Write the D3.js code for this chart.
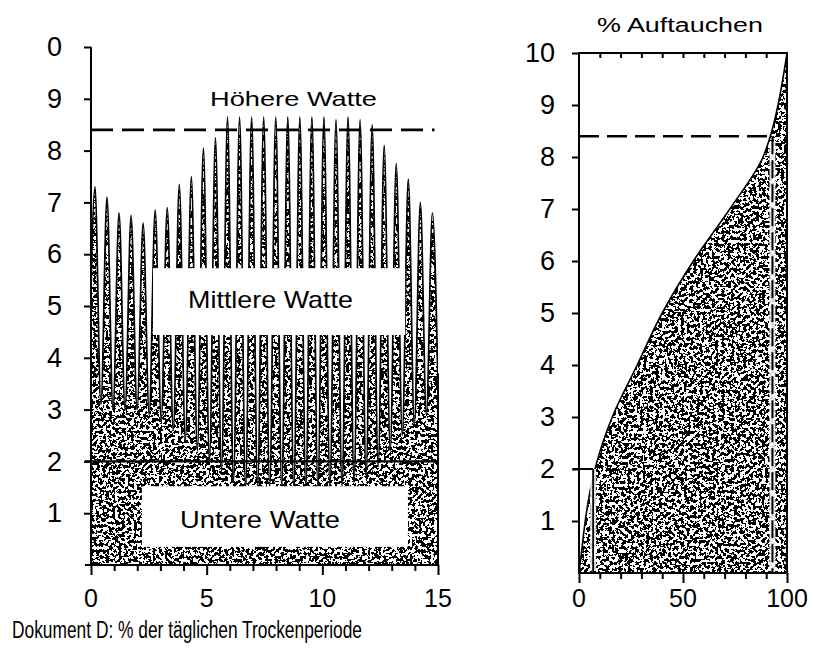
<!DOCTYPE html>
<html>
<head>
<meta charset="utf-8">
<script src="https://cdn.jsdelivr.net/npm/d3@7"></script>
<style>
	body {margin: 0; background: #fff;}
	text {font-family: "Liberation Sans", Arial, sans-serif; fill: #000;}
</style>
</head>
<body>
<svg id="chart"></svg>
<script>
// left panel: tide curve, one high and one low water each half tide
var tideStart = 0.17, tidePeriod = 0.521;
var tideHighs = [7.3, 7.1, 6.8, 6.75, 6.6, 6.85, 6.9, 7.35, 7.5, 8.05, 8.25,
	8.65, 8.65, 8.65, 8.65, 8.65, 8.65, 8.65, 8.65, 8.65, 8.6, 8.65, 8.6,
	8.5, 8.1, 7.75, 7.45, 7.0, 6.8];
var tideLows = [3.2, 3.1, 3.0, 3.0, 3.0, 2.9, 2.8, 2.6, 2.4, 2.2, 2.0, 1.8,
	1.6, 1.5, 1.5, 1.5, 1.5, 1.5, 1.5, 1.5, 1.5, 1.5, 1.6, 1.7, 1.9, 2.2,
	2.5, 2.7, 2.9, 3.0];
var leftXTicks = [0, 5, 10, 15];
var leftYTicks = [1, 2, 3, 4, 5, 6, 7, 8, 9, 10];
var leftYTickLabels = ["1", "2", "3", "4", "5", "6", "7", "8", "9", "0"];

// right panel: emergence (% of time dry) against level
var emergLevel = [0, 0.5, 1, 1.5, 2, 3, 4, 5, 6, 7, 8, 8.4, 9, 9.5, 10];
var emergPct = [0, 1.5, 3, 5, 7.7, 16, 28, 40, 55, 72.5, 88.5, 92, 95.7, 98, 100];
var rightXTicks = [0, 50, 100];
var rightYTicks = [1, 2, 3, 4, 5, 6, 7, 8, 9, 10];

var zoneNames = ["Höhere Watte", "Mittlere Watte", "Untere Watte"];
var highLimit = 8.4, lowLimit = 2;
var highLimitPct = 93, lowLimitPct = 6.8;

var W = 813, H = 661;
var svg = d3.select("#chart").attr("width", W).attr("height", H);
svg.append("rect").attr("width", W).attr("height", H).attr("fill", "#fff");

// scanned stipple texture
var defs = svg.append("defs");
var f = defs.append("filter").attr("id", "stipple")
	.attr("x", 0).attr("y", 0).attr("width", 1).attr("height", 1)
	.attr("color-interpolation-filters", "sRGB");
f.append("feTurbulence").attr("type", "fractalNoise").attr("baseFrequency", 0.32)
	.attr("numOctaves", 3).attr("seed", 11).attr("result", "noise");
f.append("feColorMatrix").attr("in", "noise").attr("type", "matrix")
	.attr("values", "0 0 0 0 0  0 0 0 0 0  0 0 0 0 0  1 0 0 0 0").attr("result", "a");
f.append("feComponentTransfer").attr("in", "a").attr("result", "mask")
	.append("feFuncA").attr("type", "discrete").attr("tableValues", "0 0 0 0 0 0 0 0 0 0 1 1 1 1 1 1 1 1 1 1");
f.append("feComposite").attr("in", "SourceGraphic").attr("in2", "mask").attr("operator", "in");

// ---------- left panel ----------
var x = d3.scaleLinear().domain([0, 15]).range([91, 438]);
var y = d3.scaleLinear().domain([0, 10]).range([565, 47]);

var tide = [];
tideLows.forEach(function(v, i) {
	tide.push({t: tideStart + (i - 0.5) * tidePeriod, h: v});
	if (i < tideHighs.length) tide.push({t: tideStart + i * tidePeriod, h: tideHighs[i]});
});

defs.append("clipPath").attr("id", "leftClip").append("rect")
	.attr("x", x(0)).attr("y", 0).attr("width", x(15) - x(0)).attr("height", y(0));

var left = svg.append("g").attr("clip-path", "url(#leftClip)");
left.append("path").datum(tide)
	.attr("d", d3.area().x(function(d) { return x(d.t); }).y0(y(0)).y1(function(d) { return y(d.h); }).curve(d3.curveMonotoneX))
	.attr("fill", "#000").attr("filter", "url(#stipple)");
left.append("path").datum(tide)
	.attr("d", d3.line().x(function(d) { return x(d.t); }).y(function(d) { return y(d.h); }).curve(d3.curveMonotoneX))
	.attr("fill", "none").attr("stroke", "#000").attr("stroke-width", 1.7);

// right edge of the tide fill
svg.append("line").attr("x1", x(15)).attr("x2", x(15)).attr("y1", y(0)).attr("y2", y(3.7))
	.attr("stroke", "#000").attr("stroke-width", 2);

// white label boxes
var boxes = [[2.68, 13.58, 5.73, 4.44], [2.2, 13.7, 1.52, 0.35]];
boxes.forEach(function(b) {
	svg.append("rect").attr("x", x(b[0])).attr("width", x(b[1]) - x(b[0]))
		.attr("y", y(b[2])).attr("height", y(b[3]) - y(b[2])).attr("fill", "#fff");
});

// limit lines
svg.append("line").attr("x1", x(0)).attr("x2", x(14.85)).attr("y1", y(highLimit)).attr("y2", y(highLimit))
	.attr("stroke", "#000").attr("stroke-width", 2.6).attr("stroke-dasharray", "22,9");
svg.append("line").attr("x1", x(0) - 6).attr("x2", x(15)).attr("y1", y(lowLimit)).attr("y2", y(lowLimit))
	.attr("stroke", "#000").attr("stroke-width", 2.2);

// axes
var yAxisL = svg.append("g").attr("transform", "translate(" + x(0) + ",0)")
	.call(d3.axisLeft(y).tickValues(leftYTicks).tickSize(7)
		.tickFormat(function(d, i) { return leftYTickLabels[i]; }));
yAxisL.select(".domain").attr("d", "M0," + y(10) + "V" + y(0));
yAxisL.selectAll("text").attr("x", -29).style("font-size", "27px");

var xAxisL = svg.append("g").attr("transform", "translate(0," + y(0) + ")")
	.call(d3.axisBottom(x).tickValues(d3.range(0, 16)).tickSize(6).tickFormat(""));
xAxisL.select(".domain").attr("d", "M" + (x(0) - 6) + ",0H" + x(15));
xAxisL.selectAll(".tick line").filter(function(d) { return d % 5 === 0; }).attr("y2", 10);
svg.append("g").selectAll("text").data(leftXTicks).enter().append("text")
	.attr("x", function(d) { return x(d); }).attr("y", 607)
	.attr("text-anchor", "middle").style("font-size", "25px").text(function(d) { return d; });

svg.selectAll(".domain, .tick line").attr("stroke", "#000").attr("stroke-width", 2);
svg.selectAll(".tick text").attr("fill", "#000").style("font-family", "'Liberation Sans', Arial, sans-serif");

// zone labels
svg.append("text").attr("x", 210).attr("y", 106).attr("textLength", 167).attr("lengthAdjust", "spacingAndGlyphs")
	.style("font-size", "21px").text(zoneNames[0]);
svg.append("text").attr("x", 188).attr("y", 308).attr("textLength", 165).attr("lengthAdjust", "spacingAndGlyphs")
	.style("font-size", "24px").text(zoneNames[1]);
svg.append("text").attr("x", 180).attr("y", 528).attr("textLength", 160).attr("lengthAdjust", "spacingAndGlyphs")
	.style("font-size", "24px").text(zoneNames[2]);

// ---------- right panel ----------
var x2 = d3.scaleLinear().domain([0, 100]).range([579, 787]);
var y2 = d3.scaleLinear().domain([0, 10]).range([573, 53]);

var emerg = emergLevel.map(function(v, i) { return {h: v, p: emergPct[i]}; });

svg.append("path").datum(emerg)
	.attr("d", d3.area().y(function(d) { return y2(d.h); }).x0(function(d) { return x2(d.p); }).x1(x2(100)).curve(d3.curveMonotoneY))
	.attr("fill", "#000").attr("filter", "url(#stipple)");
svg.append("path").datum(emerg)
	.attr("d", d3.line().y(function(d) { return y2(d.h); }).x(function(d) { return x2(d.p); }).curve(d3.curveMonotoneY))
	.attr("fill", "none").attr("stroke", "#000").attr("stroke-width", 1.6);

// white gaps along the two vertical limit lines
[highLimitPct, lowLimitPct].forEach(function(p) {
	svg.append("line").attr("x1", x2(p)).attr("x2", x2(p))
		.attr("y1", y2(p === highLimitPct ? highLimit - 0.1 : lowLimit)).attr("y2", y2(0) - 2)
		.attr("stroke", "#fff").attr("stroke-width", 6).attr("stroke-opacity", 0.85);
});

svg.append("line").attr("x1", x2(0)).attr("x2", x2(92)).attr("y1", y2(highLimit)).attr("y2", y2(highLimit))
	.attr("stroke", "#000").attr("stroke-width", 2.6).attr("stroke-dasharray", "20,8");
svg.append("line").attr("x1", x2(highLimitPct)).attr("x2", x2(highLimitPct)).attr("y1", y2(highLimit)).attr("y2", y2(0))
	.attr("stroke", "#000").attr("stroke-width", 2).attr("stroke-dasharray", "18,6");
svg.append("line").attr("x1", x2(0) - 6).attr("x2", x2(lowLimitPct)).attr("y1", y2(lowLimit)).attr("y2", y2(lowLimit))
	.attr("stroke", "#000").attr("stroke-width", 2);
svg.append("line").attr("x1", x2(lowLimitPct)).attr("x2", x2(lowLimitPct)).attr("y1", y2(lowLimit)).attr("y2", y2(0))
	.attr("stroke", "#000").attr("stroke-width", 1.8);

// frame
svg.append("rect").attr("x", x2(0)).attr("y", y2(10)).attr("width", x2(100) - x2(0)).attr("height", y2(0) - y2(10))
	.attr("fill", "none").attr("stroke", "#000").attr("stroke-width", 2);

var yAxisR = svg.append("g").attr("transform", "translate(" + x2(0) + ",0)")
	.call(d3.axisLeft(y2).tickValues(rightYTicks).tickSize(7));
yAxisR.select(".domain").remove();
yAxisR.selectAll("text").attr("x", -24).style("font-size", "27px");

var xAxisR = svg.append("g").attr("transform", "translate(0," + y2(0) + ")")
	.call(d3.axisBottom(x2).tickValues(d3.range(0, 101, 10)).tickSize(6).tickFormat(""));
xAxisR.select(".domain").remove();
xAxisR.selectAll(".tick line").filter(function(d) { return d % 50 === 0; }).attr("y2", 10);

var topAxisR = svg.append("g").attr("transform", "translate(0," + y2(10) + ")")
	.call(d3.axisBottom(x2).tickValues(d3.range(10, 100, 10)).tickSize(5).tickFormat(""));
topAxisR.select(".domain").remove();

svg.append("g").selectAll("text").data(rightXTicks).enter().append("text")
	.attr("x", function(d) { return x2(d); }).attr("y", 607)
	.attr("text-anchor", "middle").style("font-size", "25px").text(function(d) { return d; });

svg.selectAll(".domain, .tick line").attr("stroke", "#000").attr("stroke-width", 2);
svg.selectAll(".tick text").attr("fill", "#000").style("font-family", "'Liberation Sans', Arial, sans-serif");

svg.append("text").attr("x", 597).attr("y", 32).attr("textLength", 166).attr("lengthAdjust", "spacingAndGlyphs")
	.style("font-size", "20px").text("% Auftauchen");

// caption
svg.append("text").attr("x", 12).attr("y", 638).attr("textLength", 350).attr("lengthAdjust", "spacingAndGlyphs")
	.style("font-size", "23px").text("Dokument D: % der täglichen Trockenperiode");
</script>
</body>
</html>
